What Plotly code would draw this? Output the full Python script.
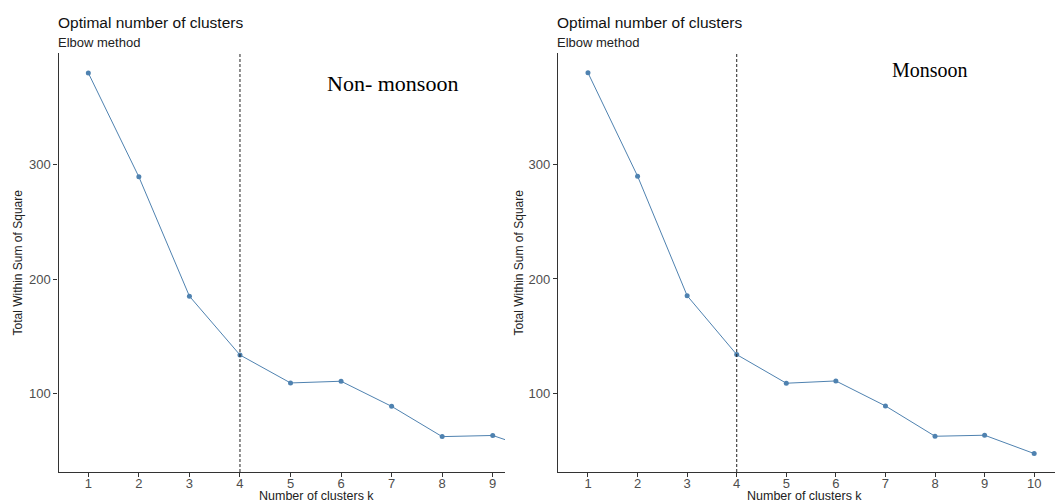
import plotly.graph_objects as go

# ---- data ----
k_values = [1, 2, 3, 4, 5, 6, 7, 8, 9, 10]
non_monsoon_wss = [380.5, 289.5, 185.0, 133.5, 109.0, 110.5, 88.5, 62.0, 63.0, 48.0]
monsoon_wss = [380.0, 289.8, 185.4, 134.0, 109.0, 111.0, 89.2, 62.7, 63.6, 47.6]
optimal_k = 4
x_tick_labels_left = ["1", "2", "3", "4", "5", "6", "7", "8", "9"]
x_tick_labels_right = ["1", "2", "3", "4", "5", "6", "7", "8", "9", "10"]
y_ticks = [100, 200, 300]

W, H = 1055, 504
LINE_COLOR = "#4f82b0"
AXIS_COLOR = "#333333"
TICK_FONT = dict(family="Liberation Sans, Arial, sans-serif", size=13, color="#4d4d4d")
SANS = "Liberation Sans, Arial, sans-serif"
SERIF = "Liberation Serif, Times New Roman, serif"

def px_x(p):
    return p / W

def px_y(p):
    return (H - p) / H

fig = go.Figure()

fig.add_trace(go.Scatter(
    x=k_values, y=non_monsoon_wss, mode="lines+markers",
    line=dict(color=LINE_COLOR, width=1),
    marker=dict(color=LINE_COLOR, size=5),
    xaxis="x", yaxis="y", showlegend=False, cliponaxis=True,
))
fig.add_trace(go.Scatter(
    x=k_values, y=monsoon_wss, mode="lines+markers",
    line=dict(color=LINE_COLOR, width=1),
    marker=dict(color=LINE_COLOR, size=5),
    xaxis="x2", yaxis="y2", showlegend=False, cliponaxis=True,
))

ydom = [px_y(472), px_y(53)]
common_x = dict(
    showline=True, linecolor=AXIS_COLOR, linewidth=1.2,
    ticks="outside", ticklen=4, tickcolor=AXIS_COLOR, tickwidth=1,
    showgrid=False, zeroline=False, tickfont=TICK_FONT, ticklabelstandoff=-5,
)
common_y = dict(
    showline=True, linecolor=AXIS_COLOR, linewidth=1.2,
    ticks="outside", ticklen=4, tickcolor=AXIS_COLOR, tickwidth=1,
    showgrid=False, zeroline=False, tickfont=TICK_FONT,
    tickvals=y_ticks, ticktext=[str(v) for v in y_ticks],
)

fig.update_layout(
    width=W, height=H,
    margin=dict(l=0, r=0, t=0, b=0),
    paper_bgcolor="white", plot_bgcolor="white",
    xaxis=dict(domain=[px_x(58.5), px_x(505)], range=[0.41, 9.243],
               tickvals=k_values[:9], ticktext=x_tick_labels_left, anchor="y", **common_x),
    yaxis=dict(domain=ydom, range=[31, 398], anchor="x", **common_y),
    xaxis2=dict(domain=[px_x(558), 1.0], range=[0.395, 10.42],
                tickvals=k_values, ticktext=x_tick_labels_right, anchor="y2", **common_x),
    yaxis2=dict(domain=ydom, range=[31.5, 397.3], anchor="x2", **common_y),
)

# dashed vertical line at optimal k
for xr, yr in (("x", "y"), ("x2", "y2")):
    fig.add_shape(type="line", xref=xr, yref=f"{yr} domain",
                  x0=optimal_k, x1=optimal_k, y0=0, y1=1,
                  line=dict(color="#222222", width=1, dash="3px,2px"))

annotations = []
for left_px, xtitle_px, ytitle_px in ((56, 316, 18), (555, 804, 519)):
    annotations.append(dict(text="Optimal number of clusters", x=px_x(left_px), y=px_y(22.5),
                            xref="paper", yref="paper", xanchor="left", yanchor="middle",
                            showarrow=False, font=dict(family=SANS, size=15.5, color="#111111")))
    annotations.append(dict(text="Elbow method", x=px_x(left_px), y=px_y(42),
                            xref="paper", yref="paper", xanchor="left", yanchor="middle",
                            showarrow=False, font=dict(family=SANS, size=13, color="#222222")))
    annotations.append(dict(text="Number of clusters k", x=px_x(xtitle_px), y=px_y(504),
                            xref="paper", yref="paper", xanchor="center", yanchor="bottom",
                            borderpad=0, showarrow=False,
                            font=dict(family=SANS, size=12.5, color="#222222")))
    annotations.append(dict(text="Total Within Sum of Square", x=px_x(ytitle_px), y=px_y(262.5),
                            xref="paper", yref="paper", xanchor="center", yanchor="middle",
                            textangle=-90, showarrow=False,
                            font=dict(family=SANS, size=12, color="#222222")))

annotations.append(dict(text="Non- monsoon", x=px_x(392), y=px_y(84),
                        xref="paper", yref="paper", xanchor="center", yanchor="middle",
                        showarrow=False, font=dict(family=SERIF, size=22, color="#000000")))
annotations.append(dict(text="Monsoon", x=px_x(930), y=px_y(70),
                        xref="paper", yref="paper", xanchor="center", yanchor="middle",
                        showarrow=False, font=dict(family=SERIF, size=20, color="#000000")))

fig.update_layout(annotations=annotations)

fig.write_html("out.html")
